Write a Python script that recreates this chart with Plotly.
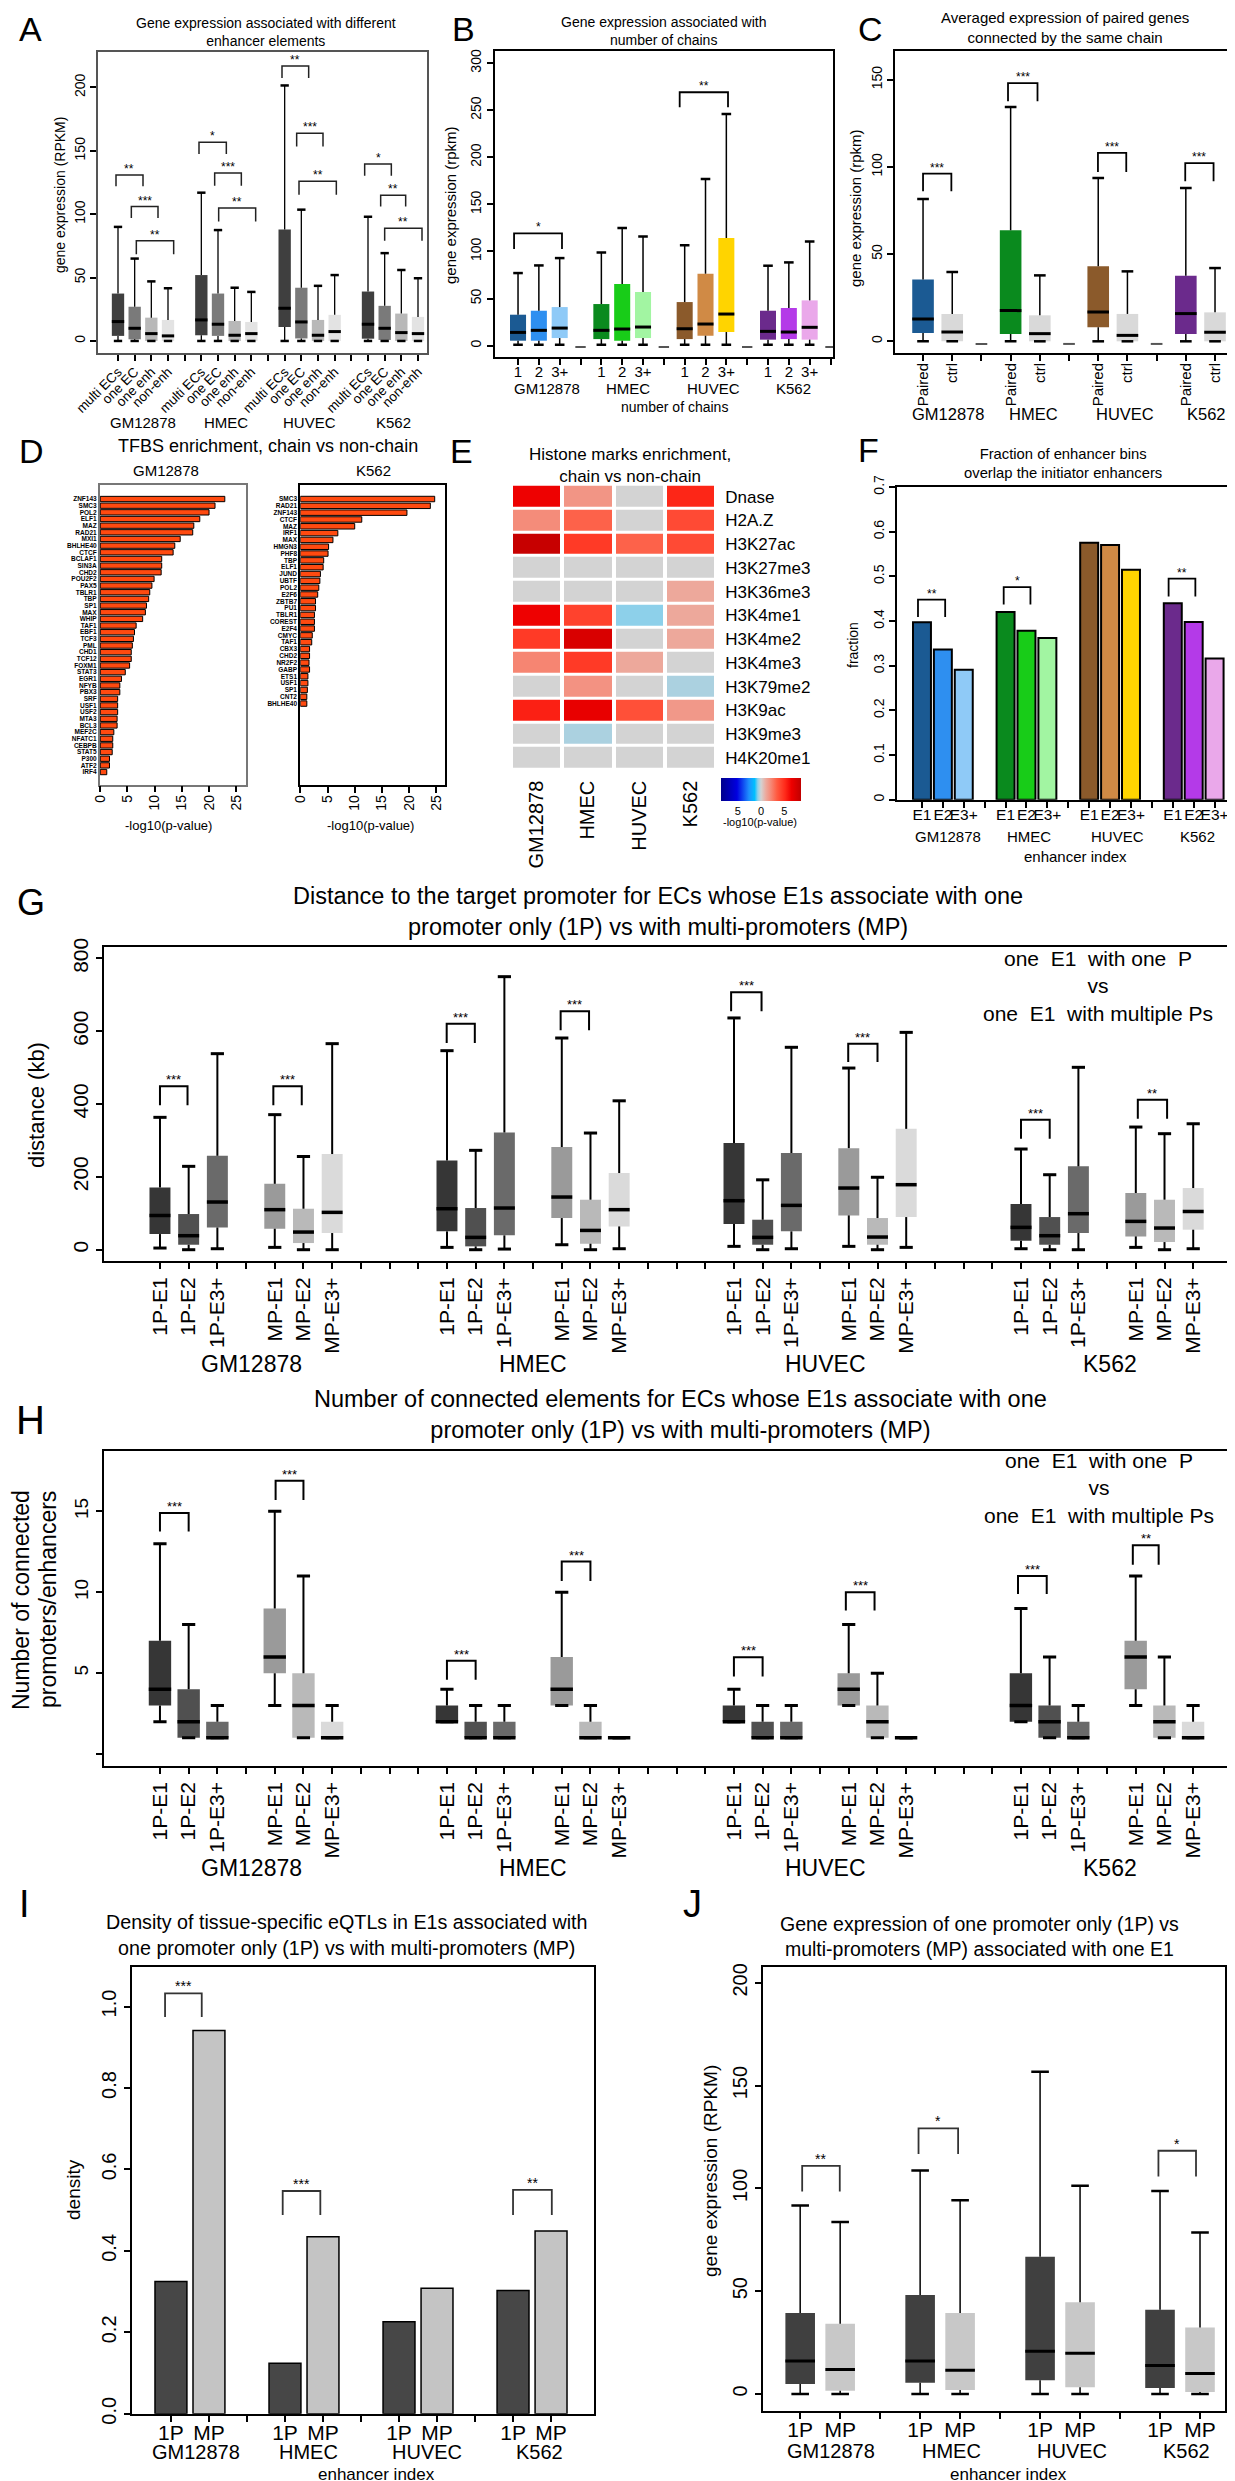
import plotly.graph_objects as go

W, H = 1235, 2481
FONT = "Liberation Sans, Arial, Helvetica, sans-serif"

GROUPS = ["GM12878", "HMEC", "HUVEC", "K562"]

# ---------------- Panel A ----------------
A_CATS = ["multi ECs", "one EC", "one enh", "non-enh"]
A_Q1 = [4.0, 1.3, 0, 0, 4.5, 4.0, 0, 0, 11.0, 2.0, 0, 0, 1.8, 0.8, 0, 0]
A_MED = [15.3, 10.0, 5.8, 4.0, 16.6, 13.2, 4.5, 5.8, 25.8, 15.0, 4.5, 7.4, 13.2, 10.0, 6.6, 5.8]
A_Q3 = [37.4, 27.0, 18.4, 16.6, 52.0, 37.4, 15.8, 15.0, 88.0, 42.0, 16.6, 20.6, 39.0, 27.7, 21.6, 19.0]
A_LO = [0] * 16
A_HI = [90, 65, 47, 41.6, 117, 87.5, 42, 38.7, 201.6, 103.6, 43.5, 52, 98, 69.3, 56, 49.5]
A_COLORS = ["#3f3f3f", "#7a7a7a", "#b8b8b8", "#e3e3e3"] * 4
A_BRACKETS = [(0.88, 2.5, 131, 122, "**"), (1.8, 3.4, 106, 97, "***"), (2.1, 4.34, 79, 68.5, "**"),
              (5.86, 7.5, 156.8, 147.6, "*"), (6.8, 8.4, 132.5, 122.5, "***"), (7.04, 9.26, 105, 94.3, "**"),
              (10.84, 12.44, 216.9, 207.4, "**"), (11.72, 13.3, 163.9, 153.4, "***"), (11.86, 14.1, 126, 115.4, "**"),
              (15.8, 17.4, 139.7, 130.4, "*"), (16.76, 18.26, 115, 106, "**"), (17.0, 19.24, 89, 79, "**")]

# ---------------- Panel B ----------------
B_CATS = ["1", "2", "3+"]
B_Q1 = [5.3, 5.3, 8.1, 7.0, 5.3, 8.1, 7.0, 10.6, 14.5, 6.4, 7.0, 6.4]
B_MED = [14.1, 16.3, 18.7, 16.3, 17.7, 19.8, 18.0, 23.0, 33.6, 15.2, 14.5, 19.5]
B_Q3 = [32.9, 37.1, 41.0, 44.2, 65.4, 57.0, 46.3, 76.4, 114.3, 37.1, 40.0, 48.1]
B_LO = [1] * 12
B_HI = [77.1, 85.2, 93.0, 99.0, 124.9, 116.0, 106.5, 176.9, 245.8, 84.9, 88.4, 110.7]
CHAIN_COLORS = ["#1b5a93", "#2e8ff0", "#8fcaf7", "#0a8a1e", "#18cc18", "#a2f5a2",
                "#8b5a2b", "#d08a45", "#ffd400", "#6b2a8c", "#b43ae8", "#eaa8ea"]
B_BRACKETS = [(0.81, 3.11, 119.2, 102.6, "*"), (8.76, 11.08, 269, 253, "**")]
B_EMPTY = -1.4

# ---------------- Panel C ----------------
C_CATS = ["Paired", "ctrl"]
C_Q1 = [4.8, 0, 4.2, 0, 8.0, 0, 4.2, 0]
C_MED = [12.8, 5.4, 17.6, 4.4, 16.8, 3.4, 15.9, 5.2]
C_Q3 = [35.4, 15.7, 63.6, 14.9, 43.0, 15.7, 37.6, 16.6]
C_LO = [0] * 8
C_HI = [81.6, 39.7, 134.3, 37.8, 93.6, 40.1, 87.9, 42.0]
C_COLORS = ["#1b5a93", "#d9d9d9", "#0a8a1e", "#d9d9d9", "#8b5a2b", "#d9d9d9", "#6b2a8c", "#d9d9d9"]
C_BRACKETS = [(1.0, 1.97, 96.1, 86, "***"), (3.91, 4.92, 148, 137.6, "***"),
              (6.99, 7.96, 108, 97, "***"), (9.98, 10.95, 102.2, 91.7, "***")]
C_EMPTY = -1.5

# ---------------- Panel D ----------------
D_GM_TF = ["ZNF143", "SMC3", "POL2", "ELF1", "MAZ", "RAD21", "MXI1", "BHLHE40", "CTCF", "BCLAF1",
           "SIN3A", "CHD2", "POU2F2", "PAX5", "TBLR1", "TBP", "SP1", "MAX", "WHIP", "TAF1",
           "EBF1", "TCF3", "PML", "CHD1", "TCF12", "FOXM1", "STAT3", "EGR1", "NFYB", "PBX3",
           "SRF", "USF1", "USF2", "MTA3", "BCL3", "MEF2C", "NFATC1", "CEBPB", "STAT5", "P300",
           "ATF2", "IRF4"]
D_GM_VAL = [22.9, 21.1, 20.0, 18.3, 17.2, 17.0, 14.7, 13.7, 13.4, 11.3,
            11.3, 11.2, 9.9, 9.5, 9.1, 8.9, 8.5, 8.3, 7.8, 6.6,
            6.3, 6.1, 5.9, 5.7, 5.7, 5.4, 4.6, 3.9, 3.6, 3.6,
            3.2, 3.2, 3.2, 3.1, 3.1, 2.5, 2.3, 2.3, 2.2, 1.7,
            1.7, 1.2]
D_K5_TF = ["SMC3", "RAD21", "ZNF143", "CTCF", "MAZ", "IRF1", "MAX", "HMGN3", "PHF8", "TBP",
           "ELF1", "JUND", "UBTF", "POL2", "E2F6", "ZBTB7", "PU1", "TBLR1", "COREST", "E2F4",
           "CMYC", "TAF1", "CBX3", "CHD2", "NR2F2", "GABP", "ETS1", "USF1", "SP1", "CNT2", "BHLHE40"]
D_K5_VAL = [24.7, 23.9, 19.6, 11.3, 10.0, 6.9, 6.0, 5.2, 5.1, 4.3,
            4.2, 3.7, 3.6, 3.4, 3.2, 2.8, 2.8, 2.6, 2.6, 2.6,
            2.2, 2.1, 1.7, 1.7, 1.6, 1.7, 1.4, 1.4, 1.3, 1.2, 1.2]

# ---------------- Panel E ----------------
E_ROWS = ["Dnase", "H2A.Z", "H3K27ac", "H3K27me3", "H3K36me3", "H3K4me1", "H3K4me2",
          "H3K4me3", "H3K79me2", "H3K9ac", "H3K9me3", "H4K20me1"]
E_Z = [[6.5, 1.7, 0, 5.3],
       [2.0, 3.2, 0, 4.0],
       [8.3, 4.6, 3.2, 4.0],
       [0, 0, 0, 0],
       [0, 0, 0, 1.1],
       [6.5, 4.3, -0.7, 1.1],
       [4.6, 7.5, 0, 1.1],
       [2.2, 4.6, 1.1, 0],
       [0, 1.8, 0, -0.4],
       [5.5, 6.8, 3.8, 1.6],
       [0, -0.4, 0, 0],
       [0, 0, 0, 0]]

# ---------------- Panel F ----------------
F_CATS = ["E1", "E2", "E3+"]
F_VAL = [0.397, 0.336, 0.291, 0.420, 0.378, 0.362, 0.575, 0.570, 0.515, 0.440, 0.398, 0.316]
F_BRACKETS = [(0.81, 2.11, 0.448, 0.409, "**"), (4.91, 6.19, 0.476, 0.437, "*"), (12.8, 14.08, 0.495, 0.455, "**")]

# ---------------- Panel G ----------------
GH_CATS = ["1P-E1", "1P-E2", "1P-E3+", "MP-E1", "MP-E2", "MP-E3+"]
GH_COLORS = ["#363636", "#505050", "#6a6a6a", "#9a9a9a", "#b9b9b9", "#dadada"] * 4
G_Q1 = [43, 13.7, 61, 57.7, 18.3, 45.8, 50.4, 9.2, 39.4, 87, 16.5, 64,
        70.6, 13.7, 50.4, 94.3, 13.7, 89.7, 24.7, 13.7, 45.8, 36.6, 21, 55]
G_MED = [94, 38.5, 131, 110, 48.5, 102.6, 112.6, 33.9, 114.5, 144.7, 53, 110,
         134.6, 33.9, 121.8, 169.4, 34.8, 178.6, 61.4, 38.5, 98.9, 77.8, 59.5, 105]
G_Q3 = [171, 98, 258, 181, 112.6, 262.8, 245, 114.5, 322, 282, 137.4, 210.6,
        293, 82.4, 265.6, 279, 87, 332, 125.5, 89.7, 229, 155.7, 137.4, 169.4]
G_LO = [4.6, 0, 2.7, 6.4, 0, 0, 6.4, 0, 1.8, 13.7, 0, 2.7,
        9.2, 0, 2.7, 9.2, 0, 6.4, 2.7, 0, 0, 6.4, 0, 2.7]
G_HI = [363.6, 229, 538.5, 371, 256, 566, 546.7, 273, 750, 581.5, 320.5, 409,
        636.6, 192, 556, 499, 199, 597, 276.6, 206, 501, 337, 318.7, 346]
G_BRACKETS = [(1, 1.96, 448.7, 396.5, "***"), (4.95, 5.94, 448.7, 396.5, "***"),
              (10.99, 11.97, 621, 568, "***"), (14.96, 15.95, 654.8, 602.6, "***"),
              (20.9, 21.96, 707, 654.8, "***"), (24.98, 26.0, 566, 515.6, "***"),
              (31.0, 32.0, 357, 305, "***"), (35.07, 36.09, 412, 360, "**")]

# ---------------- Panel H ----------------
H_Q1 = [3, 1, 1, 5, 1, 1, 2, 1, 1, 3, 1, 1, 2, 1, 1, 3, 1, 1, 2, 1, 1, 4, 1, 1]
H_MED = [4, 2, 1, 6, 3, 1, 2, 1, 1, 4, 1, 1, 2, 1, 1, 4, 2, 1, 3, 2, 1, 6, 2, 1]
H_Q3 = [7, 4, 2, 9, 5, 2, 3, 2, 2, 6, 2, 1, 3, 2, 2, 5, 3, 1, 5, 3, 2, 7, 3, 2]
H_LO = [2, 1, 1, 3, 1, 1, 2, 1, 1, 3, 1, 1, 2, 1, 1, 3, 1, 1, 2, 1, 1, 3, 1, 1]
H_HI = [13, 8, 3, 15, 11, 3, 4, 3, 3, 10, 3, 1, 4, 3, 3, 8, 5, 1, 9, 6, 3, 11, 6, 3]
H_BRACKETS = [(1, 2, 14.9, 13.76, "***"), (5.03, 6, 16.9, 15.7, "***"), (11, 12, 5.77, 4.6, "***"),
              (15, 16, 11.9, 10.7, "***"), (21, 22, 5.98, 4.8, "***"), (24.9, 25.9, 10.0, 8.88, "***"),
              (30.9, 31.9, 11.0, 9.9, "***"), (34.9, 35.8, 12.9, 11.7, "**")]

# ---------------- Panel I ----------------
IJ_CATS = ["1P", "MP"]
I_VAL = [0.325, 0.941, 0.124, 0.435, 0.226, 0.308, 0.303, 0.449]
I_COLORS = ["#474747", "#c4c4c4"] * 4
I_BRACKETS = [(0.845, 1.81, 1.032, 0.974, "***"), (3.94, 4.93, 0.547, 0.488, "***"), (10.0, 11.02, 0.55, 0.488, "**")]

# ---------------- Panel J ----------------
J_Q1 = [4.8, 1.5, 5.4, 1.9, 6.7, 3.3, 2.9, 1.0]
J_MED = [16.0, 11.9, 16.0, 11.5, 20.8, 19.8, 13.8, 10.0]
J_Q3 = [39.4, 34.2, 48.1, 39.4, 66.7, 44.6, 41.0, 32.3]
J_LO = [0] * 8
J_HI = [91.7, 83.7, 108.7, 94.2, 156.7, 101.3, 98.7, 78.5]
J_COLORS = ["#404040", "#c8c8c8"] * 4
J_BRACKETS = [(1.05, 1.99, 111, 98.5, "**"), (3.96, 4.95, 129.2, 116.7, "*"), (9.96, 10.9, 118.3, 105.8, "*")]


# ======================= helpers =======================
def PX(x):
    return x / W


def PY(y):
    return 1 - y / H


fig = go.Figure()
layout = dict(template="none", width=W, height=H, autosize=False,
              margin=dict(l=0, r=0, t=0, b=0, pad=0, autoexpand=False),
              paper_bgcolor="white", plot_bgcolor="white", showlegend=False,
              font=dict(family=FONT, color="black"), barmode="overlay")
annotations = []


def refs(n):
    return ("x", "y") if n == 1 else (f"x{n}", f"y{n}")


def make_axes(n, box, xr, yr, lc="black", lw=2, xkw=None, ykw=None):
    x0, x1, y0, y1 = box
    xref, yref = refs(n)
    base = dict(showline=True, mirror=True, linecolor=lc, linewidth=lw, showgrid=False,
                zeroline=False, ticks="outside", ticklen=6, tickwidth=1.5, tickcolor="black",
                fixedrange=True, automargin=False, tickfont=dict(family=FONT, color="black"))
    xa = dict(base, domain=[PX(x0), PX(x1)], range=xr, anchor=yref)
    ya = dict(base, domain=[PY(y1), PY(y0)], range=yr, anchor=xref)
    if xkw:
        xa.update(xkw)
    if ykw:
        ya.update(ykw)
    layout["xaxis" if n == 1 else f"xaxis{n}"] = xa
    layout["yaxis" if n == 1 else f"yaxis{n}"] = ya
    return xref, yref


def group_ticks(cats, gap_between, ngroups=4):
    out = []
    for g in range(ngroups):
        out += list(cats)
        if g < ngroups - 1:
            out += [""] * gap_between
    return out


def tick_layout(ticks, size, angle=0, standoff=0):
    f = dict(size=size, family=FONT, color="black")
    return dict(tickvals=list(range(1, len(ticks) + 1)), ticktext=ticks, tickangle=angle, tickfont=f,
                ticklabelstandoff=standoff)


def line_trace(xr_, yr_, xs, ys, color, width):
    fig.add_trace(go.Scatter(x=xs, y=ys, mode="lines", line=dict(color=color, width=width),
                             xaxis=xr_, yaxis=yr_, hoverinfo="skip", connectgaps=False))


def add_boxes(xr_, yr_, pos, q1, med, q3, lo, hi, colors, bw, cw=0.23, wl=1.5, cl=2.5, ml=3.5):
    fig.add_trace(go.Bar(x=pos, y=[b - a for a, b in zip(q1, q3)], base=q1, width=bw,
                         marker=dict(color=colors, line=dict(width=0)),
                         xaxis=xr_, yaxis=yr_, hoverinfo="skip"))
    wx, wy, cx, cy, mx, my = [], [], [], [], [], []
    for p, a, m, b, l, h in zip(pos, q1, med, q3, lo, hi):
        wx += [p, p, None, p, p, None]
        wy += [b, h, None, a, l, None]
        cx += [p - cw, p + cw, None, p - cw, p + cw, None]
        cy += [h, h, None, l, l, None]
        mx += [p - bw / 2, p + bw / 2, None]
        my += [m, m, None]
    line_trace(xr_, yr_, wx, wy, "black", wl)
    line_trace(xr_, yr_, cx, cy, "black", cl)
    line_trace(xr_, yr_, mx, my, "black", ml)


def add_brackets(xr_, yr_, brackets, fs=13, lw=1.5, col="black"):
    bx, by = [], []
    for x1, x2, top, leg, lab in brackets:
        bx += [x1, x1, x2, x2, None]
        by += [leg, top, top, leg, None]
        annotations.append(dict(x=(x1 + x2) / 2, y=top, xref=xr_, yref=yr_, text=lab, showarrow=False,
                                xanchor="center", yanchor="bottom", yshift=-3,
                                font=dict(size=fs, family=FONT, color="black")))
    line_trace(xr_, yr_, bx, by, col, lw)


def text(x, y, s, size, angle=0, xanchor="center", yanchor="middle", xref="paper", weight="normal"):
    annotations.append(dict(x=PX(x) if xref == "paper" else x, y=PY(y), xref=xref, yref="paper",
                            text=s, showarrow=False, textangle=angle, xanchor=xanchor, yanchor=yanchor,
                            font=dict(size=size, family=FONT, color="black", weight=weight)))


def group_labels(xref, xs, y, size):
    for g, xv in zip(GROUPS, xs):
        text(xv, y, g, size, xref=xref)


def positions(ticks):
    return [i + 1 for i, t in enumerate(ticks) if t]


# ======================= Panel A =======================
A_TICKS = group_ticks(A_CATS, 1)
xa, ya = make_axes(1, (90, 419, 44, 345), [-0.2, 19.54], [-9.5, 228], lc="#555555", lw=1.5,
                   xkw=tick_layout(A_TICKS, 13.5, -45, -2),
                   ykw=dict(tickvals=[0, 50, 100, 150, 200], tickangle=-90, tickfont=dict(size=14)))
add_boxes(xa, ya, positions(A_TICKS), A_Q1, A_MED, A_Q3, A_LO, A_HI, A_COLORS, 0.74, cw=0.25, wl=1.3, cl=2.5, ml=3)
add_brackets(xa, ya, A_BRACKETS, fs=12, lw=1.5, col="#222222")
group_labels(xa, [2.5, 7.5, 12.5, 17.5], 414, 15)
text(258, 24, "Gene expression associated with different<br>enhancer elements", 14)
text(52, 187, "gene expression (RPKM)", 14, angle=-90)
text(22, 21, "A", 34)

# ======================= Panel B =======================
B_TICKS = group_ticks(B_CATS + [""], 0)
xb, yb = make_axes(2, (486.7, 825, 43, 349), [-0.12, 16.12], [-12, 312.8],
                   xkw=tick_layout(B_TICKS, 15, 0, -6),
                   ykw=dict(tickvals=[0, 50, 100, 150, 200, 250, 300], tickangle=-90, tickfont=dict(size=14)))
add_boxes(xb, yb, positions(B_TICKS), B_Q1, B_MED, B_Q3, B_LO, B_HI, CHAIN_COLORS, 0.77, cw=0.23, wl=1.5, cl=2.5, ml=3)
gx, gy = [], []
for p in [i + 1 for i, t in enumerate(B_TICKS) if not t]:
    gx += [p - 0.25, p + 0.25, None]
    gy += [B_EMPTY, B_EMPTY, None]
line_trace(xb, yb, gx, gy, "#555555", 2)
add_brackets(xb, yb, B_BRACKETS, fs=12, lw=1.8)
group_labels(xb, [2.4, 6.3, 10.4, 14.2], 381, 15)
text(667, 399, "number of chains", 14)
text(655, 23, "Gene expression associated with<br>number of chains", 14)
text(443, 197, "gene expression (rpkm)", 15, angle=-90)
text(455, 21, "B", 34)

# ======================= Panel C =======================
C_TICKS = group_ticks(C_CATS, 1)
xc, yc = make_axes(3, (887.3, 1226, 42.7, 345), [0.05, 11.65], [-6.7, 166.6],
                   xkw=tick_layout(C_TICKS, 15, -90, -4),
                   ykw=dict(tickvals=[0, 50, 100, 150], tickangle=-90, tickfont=dict(size=14)))
add_boxes(xc, yc, positions(C_TICKS), C_Q1, C_MED, C_Q3, C_LO, C_HI, C_COLORS, 0.74, cw=0.2, wl=1.5, cl=2.5, ml=3)
gx, gy = [], []
for p in [i + 1 for i, t in enumerate(C_TICKS) if not t]:
    gx += [p - 0.2, p + 0.2, None]
    gy += [C_EMPTY, C_EMPTY, None]
line_trace(xc, yc, gx, gy, "#555555", 2)
add_brackets(xc, yc, C_BRACKETS, fs=12, lw=1.8)
group_labels(xc, [1.85, 4.8, 7.9, 10.7], 406, 16.5)
text(1057, 20, "Averaged expression of paired genes<br>connected by the same chain", 15)
text(847, 200, "gene expression (rpkm)", 15, angle=-90)
text(862, 21, "C", 34)

# ======================= Panel D =======================
D_XT = dict(tickvals=[0, 5, 10, 15, 20, 25], tickangle=-90, tickfont=dict(size=14), ticklabelstandoff=-3)
xd1, yd1 = make_axes(4, (91.7, 238.3, 476.7, 776.7), [-0.1, 26.85], [42.9, -2.15], lc="#777777", lw=1.5,
                     xkw=D_XT,
                     ykw=dict(tickvals=list(range(len(D_GM_TF))), ticktext=D_GM_TF, ticks="",
                              tickfont=dict(size=6.5, weight="bold")))
fig.add_trace(go.Bar(x=D_GM_VAL, y=list(range(len(D_GM_TF))), orientation="h", width=0.8,
                     marker=dict(color="#ff4a10", line=dict(color="black", width=1)),
                     xaxis=xd1, yaxis=yd1, hoverinfo="skip"))
xd2, yd2 = make_axes(5, (292.3, 436.7, 476.7, 776.7), [0, 26.54], [41.9, -2.1],
                     xkw=D_XT,
                     ykw=dict(tickvals=list(range(len(D_K5_TF))), ticktext=D_K5_TF, ticks="",
                              tickfont=dict(size=6.5, weight="bold")))
fig.add_trace(go.Bar(x=D_K5_VAL, y=list(range(len(D_K5_TF))), orientation="h", width=0.8,
                     marker=dict(color="#ff4a10", line=dict(color="black", width=1)),
                     xaxis=xd2, yaxis=yd2, hoverinfo="skip"))
text(260, 438, "TFBS enrichment, chain vs non-chain", 18)
text(158, 462, "GM12878", 15)
text(365, 462, "K562", 15)
text(160, 817, "-log10(p-value)", 13)
text(362, 817, "-log10(p-value)", 13)
text(23, 443, "D", 34)

# ======================= Panel E =======================
xe, ye = make_axes(6, (503, 708.3, 476.7, 761.7), [-0.5, 3.5], [11.5, -0.5],
                   xkw=dict(showline=False, ticks="", tickangle=-90, tickfont=dict(size=20),
                            ticklabelstandoff=6),
                   ykw=dict(showline=False, ticks="", side="right", tickfont=dict(size=17),
                            ticklabelstandoff=8))
E_SCALE = [[0.0, "#00008b"], [0.2, "#0000e0"], [0.35, "#1e90ff"], [0.42, "#00bfff"],
           [0.46, "#8fd0ea"], [0.5, "#d3d3d3"], [0.56, "#ecaa9e"], [0.62, "#f58a78"],
           [0.7, "#ff5a40"], [0.8, "#ff2a1a"], [0.88, "#ee0000"], [1.0, "#c00000"]]
fig.add_trace(go.Heatmap(z=E_Z, x=GROUPS, y=E_ROWS, zmin=-8.6, zmax=8.6, colorscale=E_SCALE,
                         xgap=4, ygap=3, xaxis=xe, yaxis=ye, hoverinfo="skip",
                         colorbar=dict(orientation="h", x=PX(753), xanchor="center", y=PY(770),
                                       yanchor="top", len=80, lenmode="pixels", thickness=23,
                                       xpad=0, ypad=0, outlinewidth=0, ticks="",
                                       tickvals=[-5, 0, 5], ticktext=["5", "0", "5"],
                                       tickfont=dict(size=11, family=FONT))))
text(622, 457, "Histone marks enrichment,<br>chain vs non-chain", 17)
text(752, 814, "-log10(p-value)", 11)
text(453, 443, "E", 34)

# ======================= Panel F =======================
F_TICKS = group_ticks(F_CATS + [""], 0)
xf, yf = make_axes(7, (889.3, 1230, 479, 791.7), [-0.18, 16.12], [0, 0.7],
                   xkw=tick_layout(F_TICKS, 15.5, 0, -6),
                   ykw=dict(tickvals=[0, 0.1, 0.2, 0.3, 0.4, 0.5, 0.6, 0.7],
                            ticktext=["0", "0.1", "0.2", "0.3", "0.4", "0.5", "0.6", "0.7"],
                            tickangle=-90, tickfont=dict(size=14)))
fig.add_trace(go.Bar(x=positions(F_TICKS), y=F_VAL, width=0.86,
                     marker=dict(color=CHAIN_COLORS, line=dict(color="black", width=2)),
                     xaxis=xf, yaxis=yf, hoverinfo="skip"))
add_brackets(xf, yf, F_BRACKETS, fs=12, lw=1.8)
group_labels(xf, [2.24, 6.1, 10.35, 14.2], 828, 15)
text(1067, 848, "enhancer index", 15)
text(1055, 455.5, "Fraction of enhancer bins<br>overlap the initiator enhancers", 14.8)
text(845, 637, "fraction", 14, angle=-90)
text(860, 442, "F", 34)

# ======================= Panel G =======================
GH_TICKS = group_ticks(GH_CATS[:3] + [""] + GH_CATS[3:], 3)
xg, yg = make_axes(8, (96, 1234, 939, 1253), [-0.95, 38.7], [-31, 831.5],
                   xkw=tick_layout(GH_TICKS, 21, -90),
                   ykw=dict(tickvals=[0, 200, 400, 600, 800], tickangle=-90, tickfont=dict(size=21)))
add_boxes(xg, yg, positions(GH_TICKS), G_Q1, G_MED, G_Q3, G_LO, G_HI, GH_COLORS, 0.73, cw=0.23, wl=2, cl=3, ml=3.5)
add_brackets(xg, yg, G_BRACKETS, fs=13, lw=2)
group_labels(xg, [4.2, 14.0, 24.2, 34.1], 1356, 23)
text(650, 904, "Distance to the target promoter for ECs whose E1s associate with one<br>"
               "promoter only (1P) vs with multi-promoters (MP)", 23.5)
text(1090, 978, "one  E1  with one  P<br>vs<br>one  E1  with multiple Ps", 21)
text(28, 1097, "distance (kb)", 22, angle=-90)
text(23, 894, "G", 36)

# ======================= Panel H =======================
xh, yh = make_axes(9, (96, 1231, 1442.7, 1757.7), [-0.95, 38.6], [-0.72, 18.75],
                   xkw=tick_layout(GH_TICKS, 21, -90),
                   ykw=dict(tickvals=[0, 5, 10, 15], ticktext=["", "5", "10", "15"], tickangle=-90,
                            tickfont=dict(size=19)))
add_boxes(xh, yh, positions(GH_TICKS), H_Q1, H_MED, H_Q3, H_LO, H_HI, GH_COLORS, 0.78, cw=0.23, wl=2, cl=3, ml=3.5)
add_brackets(xh, yh, H_BRACKETS, fs=13, lw=2)
group_labels(xh, [4.2, 14.0, 24.2, 34.1], 1860, 23)
text(672, 1406.5, "Number of connected elements for ECs whose E1s associate with one<br>"
                  "promoter only (1P) vs with multi-promoters (MP)", 23.5)
text(1091, 1480, "one  E1  with one  P<br>vs<br>one  E1  with multiple Ps", 21)
text(13, 1592, "Number of connected", 23, angle=-90)
text(40, 1592, "promoters/enhancers", 23, angle=-90)
text(22, 1412, "H", 40)

# ======================= Panel I =======================
IJ_TICKS = group_ticks(IJ_CATS, 1)
xi, yi = make_axes(10, (123.8, 586, 1959, 2405.8), [-0.03, 12.13], [0, 1.097],
                   xkw=tick_layout(IJ_TICKS, 21, 0, -7),
                   ykw=dict(tickvals=[0, 0.2, 0.4, 0.6, 0.8, 1.0],
                            ticktext=["0.0", "0.2", "0.4", "0.6", "0.8", "1.0"],
                            tickangle=-90, tickfont=dict(size=20)))
fig.add_trace(go.Bar(x=positions(IJ_TICKS), y=I_VAL, width=0.84,
                     marker=dict(color=I_COLORS, line=dict(color="black", width=1.5)),
                     xaxis=xi, yaxis=yi, hoverinfo="skip"))
add_brackets(xi, yi, I_BRACKETS, fs=14, lw=1.8, col="#333333")
group_labels(xi, [1.66, 4.62, 7.74, 10.7], 2444, 20)
text(368, 2466, "enhancer index", 17)
text(338, 1927, "Density of tissue-specific eQTLs in E1s associated with<br>"
                "one promoter only (1P) vs with multi-promoters (MP)", 19.7)
text(65, 2182, "density", 19, angle=-90)
text(16, 1896, "I", 38)

# ======================= Panel J =======================
xj, yj = make_axes(11, (754.6, 1216.8, 1959, 2402.6), [0.06, 11.62], [-8.1, 207.7],
                   xkw=tick_layout(IJ_TICKS, 21, 0, -7),
                   ykw=dict(tickvals=[0, 50, 100, 150, 200], tickangle=-90, tickfont=dict(size=20)))
add_boxes(xj, yj, positions(IJ_TICKS), J_Q1, J_MED, J_Q3, J_LO, J_HI, J_COLORS, 0.74, cw=0.22, wl=1.5, cl=2.5, ml=3)
add_brackets(xj, yj, J_BRACKETS, fs=14, lw=1.8, col="#333333")
group_labels(xj, [1.76, 4.78, 7.79, 10.66], 2443, 20)
text(1000, 2466, "enhancer index", 17)
text(971, 1928, "Gene expression of one promoter only (1P) vs<br>"
                "multi-promoters (MP) associated with one E1", 19.5)
text(702, 2163, "gene expression (RPKM)", 19, angle=-90)
text(684, 1896, "J", 38)

layout["annotations"] = annotations
fig.update_layout(**layout)
fig.write_html("out.html")
